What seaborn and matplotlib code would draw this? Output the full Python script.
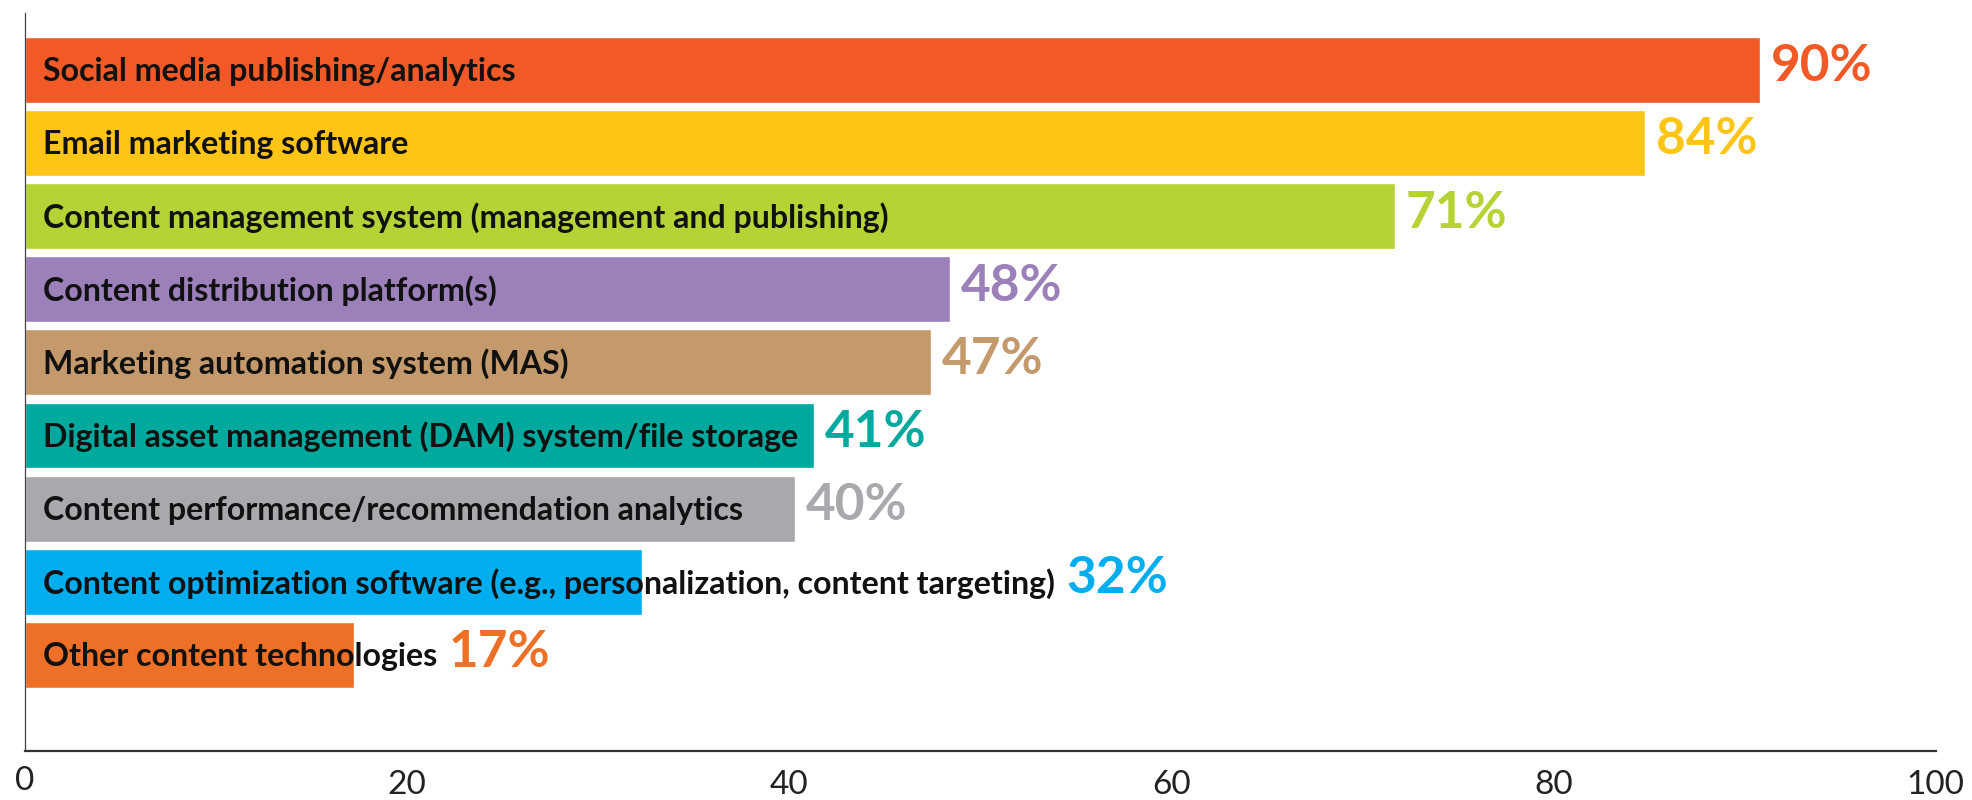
import matplotlib
matplotlib.use("Agg")
import matplotlib.pyplot as plt
import seaborn as sns
import pandas as pd

categories = [
    "Social media publishing/analytics",
    "Email marketing software",
    "Content management system (management and publishing)",
    "Content distribution platform(s)",
    "Marketing automation system (MAS)",
    "Digital asset management (DAM) system/file storage",
    "Content performance/recommendation analytics",
    "Content optimization software (e.g., personalization, content targeting)",
    "Other content technologies",
]
values = [90.8, 84.8, 71.7, 48.4, 47.4, 41.3, 40.3, 32.3, 17.2]
value_labels = ["90%", "84%", "71%", "48%", "47%", "41%", "40%", "32%", "17%"]
colors = ["#F15A26", "#FFC516", "#B5D334", "#9B80BA", "#C49A6C",
          "#00A99E", "#A7A9AC", "#00AEEF", "#EE7026"]
x_ticks = [20, 40, 60, 80, 100]

sns.set_style("white")
plt.rcParams["font.family"] = ["Lato", "DejaVu Sans"]

W, H = 1972, 800
fig = plt.figure(figsize=(W / 100, H / 100), dpi=100)
ax_left, ax_right, ax_top, ax_bottom = 25, 1935.7, 12.7, 751
ax = fig.add_axes([ax_left / W, (H - ax_bottom) / H,
                   (ax_right - ax_left) / W, (ax_bottom - ax_top) / H])

df = pd.DataFrame({"cat": categories, "val": values})
sns.barplot(data=df, x="val", y="cat", hue="cat", palette=colors,
            order=categories, hue_order=categories, orient="h",
            width=0.9, dodge=False, legend=False, saturation=1, ax=ax)

ax.set_xlim(0, 100)
ax.set_ylim(9.312, -0.779)
ax.set_xlabel("")
ax.set_ylabel("")
ax.set_yticks([])
ax.set_xticks(x_ticks)
ax.set_xticklabels([str(t) for t in x_ticks], fontsize=24, fontweight="normal",
                   color="#222222")
ax.tick_params(axis="x", direction="in", length=14.4, width=0.9,
               color="#333333", pad=14)
for s in ["top", "right"]:
    ax.spines[s].set_visible(False)
ax.spines["left"].set_color("#444444")
ax.spines["left"].set_linewidth(0.9)
ax.spines["bottom"].set_color("#333333")
ax.spines["bottom"].set_linewidth(1.6)

# "0" label at origin
ax.text(0, -0.02, "0", transform=ax.get_xaxis_transform(), ha="center",
        va="top", fontsize=24, fontweight="normal", color="#222222")

texts = []
for i, cat in enumerate(categories):
    t = ax.text(0.94, i + 0.02, cat, ha="left", va="center", fontsize=23.1,
                fontweight="bold", color="#111111")
    texts.append(t)

fig.canvas.draw()
renderer = fig.canvas.get_renderer()
inv = ax.transData.inverted()
for i, (t, v, lab, c) in enumerate(zip(texts, values, value_labels, colors)):
    bb = t.get_window_extent(renderer)
    bar_end_px = ax.transData.transform((v, i))[0]
    x_px = max(bar_end_px, bb.x1) + 11
    x_data = inv.transform((x_px, 0))[0]
    ax.text(x_data, i - 0.04, lab, ha="left", va="center", fontsize=37,
            fontweight="bold", color=c)

fig.savefig("out.png", dpi=100)
